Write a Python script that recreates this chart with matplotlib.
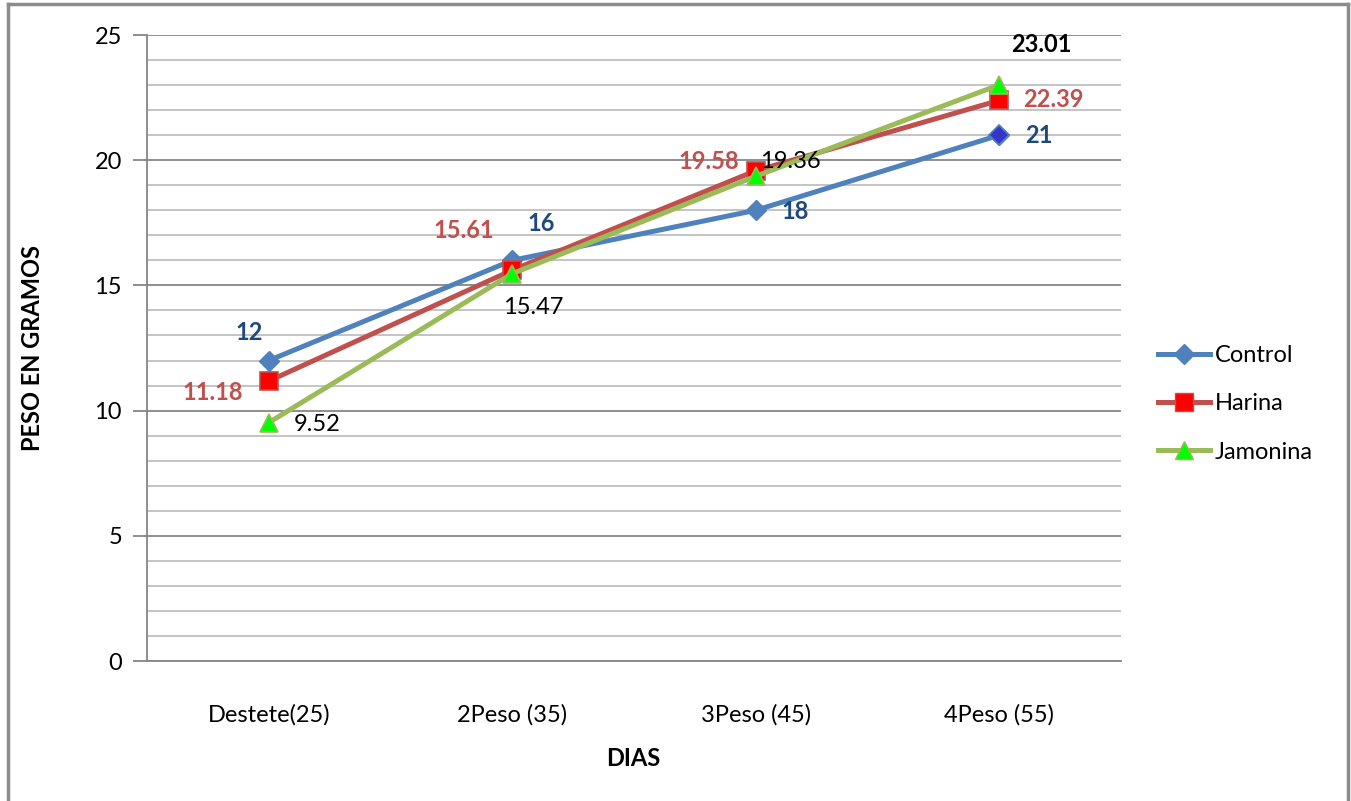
import matplotlib
matplotlib.use("Agg")
import matplotlib.pyplot as plt
from matplotlib.lines import Line2D

plt.rcParams['font.family'] = ['Lato', 'DejaVu Sans']

categories = ["Destete(25)", "2Peso (35)", "3Peso (45)", "4Peso (55)"]
control = [12, 16, 18, 21]
harina = [11.18, 15.61, 19.58, 22.39]
jamonina = [9.52, 15.47, 19.36, 23.01]

W, H, DPI = 1351, 801, 100
fig = plt.figure(figsize=(W / DPI, H / DPI), dpi=DPI)
ax = fig.add_axes([147 / W, 1 - 661 / H, (1121 - 147) / W, (661 - 35) / H])

x = [i + 0.5 for i in range(len(categories))]
ax.set_xlim(0, len(categories))
ax.set_ylim(0, 25)

major_c = "#868686"
minor_c = "#bfbfbf"
for v in range(0, 26):
    ax.axhline(v, color=major_c if v % 5 == 0 else minor_c, lw=1.3, zorder=1)

ax.plot(x, control, color="#4f81bd", lw=3.6, marker="D", ms=10,
        mfc="#4f81bd", mec="#4f81bd", zorder=3, solid_capstyle="round")
ax.plot(x[-1], control[-1], marker="D", ms=10, mfc="#3535cc", mec="#4f81bd",
        mew=1.2, zorder=6, ls="none")
ax.plot(x, harina, color="#c0504d", lw=3.6, marker="s", ms=13,
        mfc="#ff0000", mec="#c0504d", mew=1.2, zorder=4, solid_capstyle="round")
ax.plot(x, jamonina, color="#9bbb59", lw=3.6, marker="^", ms=13,
        mfc="#00ff00", mec="#9bbb59", mew=1.2, zorder=5, solid_capstyle="round")

fs = 17
blue_t = "#1f497d"
red_t = "#c0504d"

def lab(xi, yv, txt, dx, dy, color, bold):
    ax.annotate(txt, (x[xi], yv), xytext=(dx, dy), textcoords="offset pixels",
                ha="center", va="center", fontsize=fs, color=color,
                fontweight="bold" if bold else "normal", zorder=7)

# Control
lab(0, control[0], "12", -20, 28, blue_t, True)
lab(1, control[1], "16", 29, 37, blue_t, True)
lab(2, control[2], "18", 39, -1, blue_t, True)
lab(3, control[3], "21", 40, 0, blue_t, True)
# Harina
lab(0, harina[0], "11.18", -56, -11, red_t, True)
lab(1, harina[1], "15.61", -48, 40, red_t, True)
lab(2, harina[2], "19.58", -47, 9, red_t, True)
lab(3, harina[3], "22.39", 54, 1, red_t, True)
# Jamonina
lab(0, jamonina[0], "9.52", 48, -2, "black", False)
lab(1, jamonina[1], "15.47", 21, -34, "black", False)
lab(2, jamonina[2], "19.36", 35, 15, "black", False)
lab(3, jamonina[3], "23.01", 42, 40, "black", True)

ax.set_yticks(range(0, 26, 5))
ax.set_yticklabels([str(v) for v in range(0, 26, 5)], fontsize=fs)
ax.set_xticks(x)
ax.set_xticklabels(categories, fontsize=fs)
ax.tick_params(axis="y", length=10, width=1.3, color=major_c, pad=8)
ax.tick_params(axis="x", length=0, pad=31)

for s in ["top", "right"]:
    ax.spines[s].set_visible(False)
for s in ["left", "bottom"]:
    ax.spines[s].set_color(major_c)
    ax.spines[s].set_linewidth(1.3)

aw, ah = 1121 - 147, 661 - 35
ax.set_ylabel("PESO EN GRAMOS", fontsize=fs, fontweight="bold")
ax.yaxis.set_label_coords((44 - 147) / aw, 0.5)
ax.set_xlabel("DIAS", fontsize=fs, fontweight="bold")
ax.xaxis.set_label_coords((633 - 147) / aw, -(747 - 661) / ah)

handles = [
    Line2D([], [], color="#4f81bd", lw=3.6, marker="D", ms=10, mfc="#4f81bd", mec="#4f81bd"),
    Line2D([], [], color="#c0504d", lw=3.6, marker="s", ms=13, mfc="#ff0000", mec="#c0504d"),
    Line2D([], [], color="#9bbb59", lw=3.6, marker="^", ms=13, mfc="#00ff00", mec="#9bbb59"),
]
fig.legend(handles, ["Control", "Harina", "Jamonina"], loc="center left",
           bbox_to_anchor=(1158 / W, 1 - 404 / H), frameon=False, fontsize=fs,
           handlelength=2.2, handletextpad=0.2, labelspacing=1.15, borderaxespad=0,
           borderpad=0)

# Chart frame
bc = "#8c8c8c"
fig.add_artist(Line2D([8 / W, 8 / W], [0, 1 - 4 / H], color=bc, lw=2.5, transform=fig.transFigure))
fig.add_artist(Line2D([8 / W, 1348 / W], [1 - 4 / H, 1 - 4 / H], color=bc, lw=2.5, transform=fig.transFigure))
fig.add_artist(Line2D([1348 / W, 1348 / W], [0, 1 - 4 / H], color=bc, lw=2.5, transform=fig.transFigure))

fig.savefig("out.png", dpi=DPI)
